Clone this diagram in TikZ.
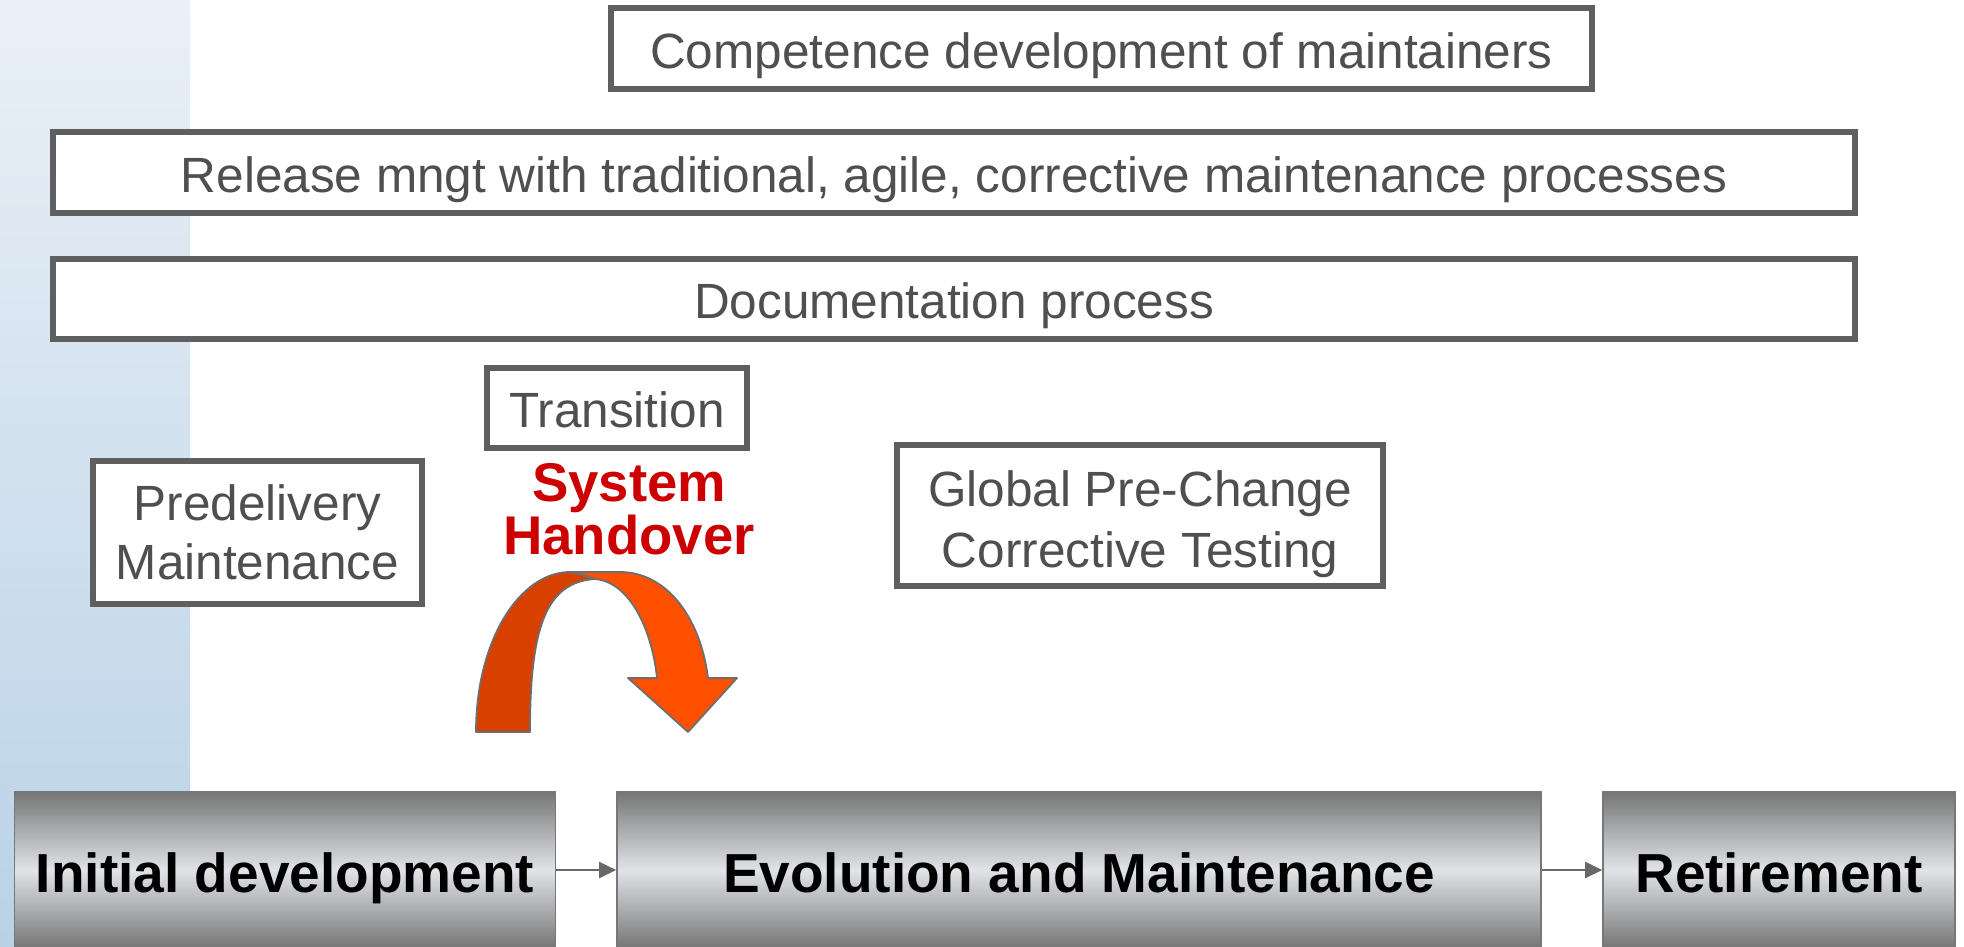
\documentclass[tikz,border=0pt]{standalone}
\usepackage{fontspec}
\setmainfont{Liberation Sans}
\usetikzlibrary{arrows.meta}
\definecolor{boxline}{HTML}{5F5F5F}
\definecolor{txtgray}{HTML}{4F4F4F}
\definecolor{hred}{HTML}{CC0000}
\definecolor{stripTop}{HTML}{EAF0F7}
\definecolor{stripBot}{HTML}{B9D2E6}
\definecolor{phaseDark}{HTML}{767676}
\definecolor{phaseLight}{HTML}{E0E3E7}
\definecolor{arrowBack}{HTML}{D84000}
\definecolor{arrowFront}{HTML}{FF5000}
\definecolor{arrowEdge}{HTML}{6E6E6E}
\definecolor{connGray}{HTML}{686868}
\tikzset{
  procbox/.style={draw=boxline, line width=5.5pt, fill=white, inner sep=0pt,
    text=txtgray, font=\fontsize{49.5}{59}\selectfont},
  oneline/.style={text height=46pt, text depth=7pt},
  phasebox/.style={draw=connGray!90, line width=1.6pt, inner sep=0pt,
    top color=phaseDark, bottom color=phaseDark, middle color=phaseLight,
    font=\bfseries\fontsize{55}{60}\selectfont, text height=50pt, text depth=6pt,
    minimum height=156pt},
  conn/.style={draw=connGray, line width=2pt, -{Triangle[length=17pt,width=16pt]}},
  bandback/.style={fill=arrowBack, draw=arrowEdge, line width=1.8pt, line join=round},
  bandfront/.style={fill=arrowFront, draw=arrowEdge, line width=1.8pt, line join=round}
}
\begin{document}
\begin{tikzpicture}[x=1pt,y=-1pt]
\useasboundingbox (0,0) rectangle (1964,946);
% left gradient strip
\shade[top color=stripTop, bottom color=stripBot] (0,0) rectangle (190,946);

% process boxes
\node[procbox, oneline, minimum width=981pt, minimum height=81pt] (comp) at (1101.5,48.5)
  {Competence development of maintainers};
\node[procbox, oneline, minimum width=1802pt, minimum height=81pt] (rel) at (954,172.5)
  {Release mngt with traditional, agile, corrective maintenance processes};
\node[procbox, oneline, minimum width=1802pt, minimum height=80pt] (doc) at (954,299)
  {Documentation process};
\node[procbox, oneline, minimum width=260pt, minimum height=80pt] (trans) at (617,408)
  {Transition};
\node[procbox, align=center, minimum width=329pt, minimum height=143pt] (pred) at (257.5,532.5)
  {Predelivery\\Maintenance};
\node[procbox, align=center, font=\fontsize{49.5}{61}\selectfont,
  minimum width=486pt, minimum height=141pt] (glob) at (1140,515.5)
  {\rule{0pt}{54pt}Global Pre-Change\\Corrective Testing};

% system handover label
\node[text=hred, align=center, inner sep=0pt,
  font=\bfseries\fontsize{54.5}{53}\selectfont] (sys) at (629,509)
  {System\\Handover};

% curved handover arrow
\path[bandback] (476,732) .. controls (476,640) and (520,572) .. (570,572)
  .. controls (580,574) .. (595,579)
  .. controls (545,582) and (530,630) .. (530,732) -- cycle;
\path[bandfront] (570,572) -- (620,572)
  .. controls (665,572) and (700,615) .. (708,678)
  -- (737,678) -- (688,732) -- (628,678) -- (657,678)
  .. controls (652,630) and (630,582) .. (595,579)
  .. controls (580,574) .. (570,572) -- cycle;

% life-cycle phases
\node[phasebox, minimum width=541pt] (init) at (285,870) {Initial development};
\node[phasebox, minimum width=924pt] (evo) at (1079,870) {Evolution and Maintenance};
\node[phasebox, minimum width=352pt] (ret) at (1779,870) {Retirement};

\draw[conn] (init) -- (evo);
\draw[conn] (evo) -- (ret);
\end{tikzpicture}
\end{document}
